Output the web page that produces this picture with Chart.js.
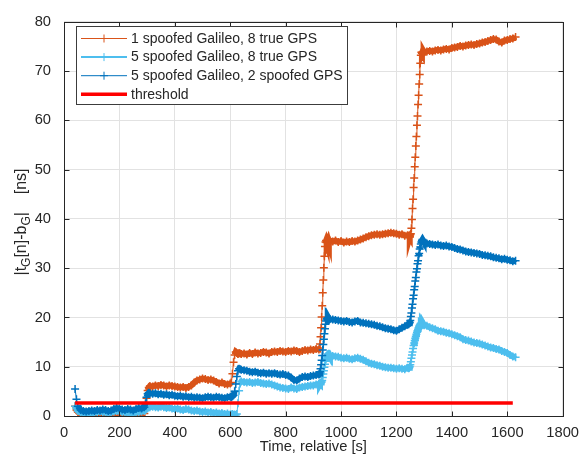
<!DOCTYPE html>
<html>
<head>
<meta charset="utf-8">
<script src="https://cdn.jsdelivr.net/npm/chart.js@4.4.0/dist/chart.umd.min.js"></script>
<style>
  html, body { margin: 0; padding: 0; background: #fff; }
  canvas { display: block; }
</style>
</head>
<body>
<canvas id="offsetChart" width="587" height="463"></canvas>
<script>
// sample times [s], denser around the spoofing steps
const times = [
  40, 45, 50, 60, 70, 80, 90, 100, 110, 120, 130, 140, 150, 160, 170, 180, 190, 200, 210, 220, 230, 240, 250, 260, 270, 280, 290,
  294, 298, 302, 306, 310,
  320, 330, 340, 350, 360, 370, 380, 390, 400, 410, 420, 430, 440, 450, 460, 470, 480, 490, 500, 510, 520, 530, 540, 550, 560, 570, 580, 590, 600,
  604, 608, 612, 616, 620, 624, 628, 632, 636, 640,
  650, 660, 670, 680, 690, 700, 710, 720, 730, 740, 750, 760, 770, 780, 790, 800, 810, 820, 830, 840, 850, 860, 870, 880, 890, 900, 910,
  920, 922, 924, 926, 928, 930, 932, 934, 936, 938, 940, 942, 944, 946, 948, 950, 952, 954, 956, 958, 960,
  970, 980, 990, 1000, 1010, 1020, 1030, 1040, 1050, 1060, 1070, 1080, 1090, 1100, 1110, 1120, 1130, 1140, 1150, 1160, 1170, 1180, 1190, 1200, 1210, 1220, 1230, 1240,
  1244, 1246, 1248, 1250, 1252, 1254, 1256, 1258, 1260, 1262, 1264, 1266, 1268, 1270, 1272, 1274, 1276, 1278, 1280, 1282, 1284, 1286, 1288, 1290, 1292, 1294, 1296, 1298, 1300,
  1310, 1320, 1330, 1340, 1350, 1360, 1370, 1380, 1390, 1400, 1410, 1420, 1430, 1440, 1450, 1460, 1470, 1480, 1490, 1500, 1510, 1520, 1530, 1540, 1550, 1560, 1570, 1580, 1590, 1600, 1610, 1620, 1630
];

// |t_G[n] - b_G| in ns
const gal1Gps8True = [
  2.0, 1.2, 0.8, 0.5, 0.3, 0.3, 0.4, 0.2, 0.3, 0.4, 0.5, 0.3, 0.2, 0.1, 0.2, 0.3, 0.2, 0.0, 0.1, 0.2, 0.1, 0.0, 0.1, 0.2, 0.3, 0.2, 0.5,
  1.6, 3.6, 5.2, 5.8, 6.1,
  6.0, 6.2, 6.1, 6.3, 6.2, 6.0, 6.2, 6.1, 6.0, 5.9, 5.8, 5.9, 5.7, 5.9, 6.2, 6.8, 7.2, 7.4, 7.6, 7.5, 7.3, 7.4, 7.2, 6.9, 6.6, 6.8, 6.5, 6.4, 6.6,
  6.8, 8.6, 10.9, 12.4, 13.0, 12.8, 12.6, 12.8, 12.7, 12.6,
  12.7, 12.5, 12.8, 12.6, 12.9, 12.7, 12.8, 13.0, 12.9, 12.7, 13.0, 13.1, 13.0, 13.2, 13.1, 13.0, 13.2, 13.1, 13.3, 13.2, 13.0, 13.2, 13.4, 13.3, 13.5, 13.4, 13.6,
  13.5, 13.8, 14.6, 16.1, 17.9, 20.1, 22.4, 25.0, 27.6, 30.1, 32.4, 34.4, 35.3, 35.6, 35.2, 35.5, 35.4, 35.7, 35.3, 35.5, 35.6,
  35.4, 35.6, 35.3, 35.5, 35.2, 35.4, 35.3, 35.5, 35.4, 35.6, 35.8, 36.0, 36.3, 36.5, 36.7, 36.8, 36.9, 36.8, 36.9, 37.0, 37.1, 37.2, 37.1, 37.0, 36.8, 36.9, 36.6, 36.7,
  36.5, 36.6, 36.4, 36.8, 37.0, 38.1, 39.9, 42.1, 44.0, 46.4, 48.3, 50.6, 52.5, 54.8, 56.7, 59.0, 60.9, 63.2, 65.1, 67.4, 69.3, 71.6, 73.2, 73.8, 73.6, 73.9, 73.7, 74.0, 73.8,
  74.0, 74.1, 74.0, 74.2, 74.3, 74.2, 74.4, 74.5, 74.4, 74.7, 74.8, 74.9, 75.1, 75.0, 75.2, 75.3, 75.4, 75.3, 75.5, 75.6, 75.8, 75.9, 76.1, 76.3, 76.5, 76.4, 76.0, 75.8, 76.2, 76.3, 76.5, 76.6, 76.9
];

const gal5Gps8True = [
  2.0, 1.5, 1.0, 0.7, 0.6, 0.5, 0.6, 0.5, 0.7, 0.8, 0.9, 0.8, 0.7, 0.6, 0.7, 0.9, 1.0, 0.9, 0.8, 0.7, 0.6, 0.5, 0.6, 0.7, 0.8, 0.9, 1.0,
  1.2, 1.5, 1.7, 1.8, 1.8,
  1.9, 1.8, 1.7, 1.9, 1.8, 1.6, 1.7, 1.5, 1.4, 1.5, 1.3, 1.2, 1.4, 1.3, 1.1, 1.0, 1.1, 0.9, 0.8, 0.9, 0.7, 0.8, 0.6, 0.7, 0.5, 0.6, 0.4, 0.5, 0.3,
  0.3, 0.4, 0.2, 0.3, 0.2, 0.4, 2.6, 5.1, 6.6, 7.0,
  6.9, 6.8, 6.9, 6.7, 6.8, 6.9, 6.7, 6.6, 6.5, 6.6, 6.4, 6.2, 6.0, 5.8, 5.7, 5.6, 5.5, 5.8, 5.6, 5.5, 5.8, 5.9, 6.0, 6.1, 6.2, 6.2, 6.4,
  6.5, 6.6, 6.5, 6.7, 6.8, 6.9, 7.2, 7.8, 8.5, 9.2, 9.9, 10.5, 11.1, 11.6, 12.0, 12.3, 12.5, 12.6, 12.4, 12.5, 12.3,
  12.2, 12.1, 12.0, 11.8, 11.7, 11.8, 11.6, 11.5, 11.7, 11.8, 11.6, 11.4, 11.1, 10.8, 10.6, 10.5, 10.3, 10.2, 10.0, 9.9, 9.8, 9.8, 9.7, 9.6, 9.7, 9.6, 9.5, 9.8,
  9.7, 9.8, 10.0, 10.4, 11.0, 11.7, 12.4, 13.0, 13.7, 14.3, 14.8, 15.3, 15.8, 16.2, 16.6, 17.0, 17.3, 17.6, 17.9, 18.2, 18.4, 18.6, 18.8, 18.7, 18.8, 18.6, 18.5, 18.6, 18.4,
  18.3, 18.0, 17.8, 17.6, 17.3, 17.2, 17.1, 16.9, 16.8, 16.6, 16.4, 16.2, 16.0, 15.6, 15.4, 15.3, 15.1, 14.9, 14.8, 14.7, 14.5, 14.3, 14.1, 13.9, 13.8, 13.6, 13.5, 13.2, 13.0, 12.8, 12.4, 12.1, 11.9
];

const gal5Gps2Spoofed = [
  5.5, 3.4, 2.0, 1.2, 1.0, 0.9, 1.0, 1.1, 1.0, 1.2, 1.1, 1.3, 1.2, 1.0, 1.1, 1.4, 1.6, 1.5, 1.3, 1.2, 1.4, 1.3, 1.1, 1.4, 1.6, 1.5, 1.8,
  2.6, 3.8, 4.5, 4.7, 4.6,
  4.5, 4.6, 4.4, 4.5, 4.3, 4.4, 4.2, 4.3, 4.1, 4.0, 4.1, 3.9, 4.0, 3.8, 3.9, 3.7, 3.8, 3.7, 3.6, 3.8, 3.9, 3.8, 3.7, 3.9, 3.8, 3.7, 3.6, 3.8, 3.9,
  3.8, 4.0, 4.2, 5.0, 6.5, 8.0, 9.2, 9.6, 9.5, 9.4,
  9.3, 9.2, 9.0, 8.9, 9.0, 8.8, 8.7, 8.8, 8.6, 8.7, 8.6, 8.7, 8.5, 8.4, 8.5, 8.3, 8.2, 7.8, 7.3, 7.2, 7.6, 7.9, 8.0, 7.9, 8.1, 8.2, 8.3,
  8.4, 8.6, 9.0, 9.6, 10.4, 11.3, 12.3, 13.4, 14.5, 15.6, 16.7, 17.7, 18.6, 19.3, 19.7, 19.8, 19.9, 19.7, 19.8, 19.6, 19.7,
  19.6, 19.5, 19.4, 19.3, 19.2, 19.3, 19.1, 19.0, 19.2, 19.3, 19.0, 18.9, 18.8, 18.7, 18.6, 18.5, 18.3, 18.2, 18.0, 17.8, 17.7, 17.6, 17.4, 17.3, 17.6, 17.9, 18.2, 18.5,
  18.6, 18.8, 19.0, 19.4, 20.2, 20.9, 21.9, 22.7, 23.8, 24.5, 25.6, 26.3, 27.4, 28.1, 29.2, 29.9, 30.9, 31.5, 32.5, 33.0, 33.9, 34.3, 34.9, 35.3, 35.6, 35.8, 35.6, 35.4, 35.3,
  35.0, 34.9, 34.8, 34.7, 34.8, 34.6, 34.5, 34.6, 34.4, 34.3, 34.1, 33.9, 33.8, 33.6, 33.4, 33.3, 33.2, 33.1, 33.0, 32.9, 32.7, 32.6, 32.5, 32.4, 32.2, 32.1, 32.0, 31.8, 31.9, 31.7, 31.6, 31.4, 31.5
];

const thresholdTimes = [40, 1620];
const thresholdLevel = [2.65, 2.65];

const xTickValues = [0, 200, 400, 600, 800, 1000, 1200, 1400, 1600, 1800];
const yTickValues = [0, 10, 20, 30, 40, 50, 60, 70, 80];

const seriesLabels = [
  '1 spoofed Galileo, 8 true GPS',
  '5 spoofed Galileo, 8 true GPS',
  '5 spoofed Galileo, 2 spoofed GPS',
  'threshold'
];
const seriesColors = ['#D95319', '#4DBEEE', '#0072BD', '#FF0000'];

const FONT = "'Liberation Sans', Arial, sans-serif";
const TEXT_COLOR = '#262626';
const GRID_COLOR = '#e2e2e2';
const TICK_LEN = 5;

function toPoints(xs, ys) {
  return xs.map((x, i) => ({ x: x, y: ys[i] }));
}

// the noisy plateaus read as a thick band, the steps as a thin line of markers
function segmentWidth(seg) {
  const dx = seg.p1.parsed.x - seg.p0.parsed.x;
  const dy = Math.abs(seg.p1.parsed.y - seg.p0.parsed.y);
  return dy / dx > 0.25 ? 1 : 6;
}

function markerSeries(idx, values, order) {
  const color = seriesColors[idx];
  return {
    label: seriesLabels[idx],
    data: toPoints(times, values),
    borderColor: color,
    backgroundColor: color,
    borderWidth: 1,
    segment: { borderWidth: segmentWidth },
    pointStyle: 'cross',
    pointRadius: 4,
    pointHoverRadius: 4,
    pointBorderWidth: 1.5,
    pointBorderColor: color,
    order: order,
    clip: 0
  };
}

// y label with subscripts: |t_G[n]-b_G|   [ns]
function drawYTitle(ctx, cx, cy) {
  const parts = [
    { text: '|t', size: 16, shift: 0 },
    { text: 'G', size: 12, shift: 4 },
    { text: '[n]-b', size: 16, shift: 0 },
    { text: 'G', size: 12, shift: 4 },
    { text: '|    [ns]', size: 16, shift: 0 }
  ];
  ctx.save();
  ctx.translate(cx, cy);
  ctx.rotate(-Math.PI / 2);
  ctx.fillStyle = TEXT_COLOR;
  ctx.textBaseline = 'alphabetic';
  let total = 0;
  parts.forEach(p => {
    ctx.font = p.size + 'px ' + FONT;
    p.w = ctx.measureText(p.text).width;
    total += p.w;
  });
  let x = -total / 2;
  parts.forEach(p => {
    ctx.font = p.size + 'px ' + FONT;
    ctx.fillText(p.text, x, 5 + p.shift);
    x += p.w;
  });
  ctx.restore();
}

function drawLegend(ctx) {
  const left = 76, top = 26, width = 271, height = 78;
  ctx.save();
  ctx.fillStyle = '#ffffff';
  ctx.fillRect(left, top, width, height);
  ctx.strokeStyle = '#3c3c3c';
  ctx.lineWidth = 1;
  ctx.strokeRect(left + 0.5, top + 0.5, width, height);

  ctx.font = '14px ' + FONT;
  ctx.textBaseline = 'middle';
  seriesLabels.forEach((label, i) => {
    const y = 38.5 + i * 18.6;
    const color = seriesColors[i];
    ctx.strokeStyle = color;
    ctx.lineWidth = i === 3 ? 3.5 : (i === 1 ? 2 : 1);
    ctx.beginPath();
    ctx.moveTo(81, y);
    ctx.lineTo(127, y);
    ctx.stroke();
    if (i < 3) {
      ctx.lineWidth = 1;
      ctx.beginPath();
      ctx.moveTo(100, y); ctx.lineTo(108, y);
      ctx.moveTo(104, y - 4); ctx.lineTo(104, y + 4);
      ctx.stroke();
    }
    ctx.fillStyle = TEXT_COLOR;
    ctx.fillText(label, 131, y + 0.5);
  });
  ctx.restore();
}

// box around the axes with inward tick marks, plus legend and y label
const axesFramePlugin = {
  id: 'axesFrame',
  afterDraw(chart) {
    const ctx = chart.ctx;
    const area = chart.chartArea;
    const xs = chart.scales.x;
    const ys = chart.scales.y;
    const l = Math.round(area.left) + 0.5;
    const r = Math.round(area.right) + 0.5;
    const t = Math.round(area.top) + 0.5;
    const b = Math.round(area.bottom) + 0.5;

    ctx.save();
    ctx.strokeStyle = TEXT_COLOR;
    ctx.lineWidth = 1;
    ctx.beginPath();
    xTickValues.forEach(v => {
      const px = Math.round(xs.getPixelForValue(v)) + 0.5;
      ctx.moveTo(px, b); ctx.lineTo(px, b - TICK_LEN);
      ctx.moveTo(px, t); ctx.lineTo(px, t + TICK_LEN);
    });
    yTickValues.forEach(v => {
      const py = Math.round(ys.getPixelForValue(v)) + 0.5;
      ctx.moveTo(l, py); ctx.lineTo(l + TICK_LEN, py);
      ctx.moveTo(r, py); ctx.lineTo(r - TICK_LEN, py);
    });
    ctx.stroke();
    ctx.strokeRect(l, t, r - l, b - t);
    ctx.restore();

    drawLegend(ctx);
    drawYTitle(ctx, 21, 222);
  }
};

const ctx = document.getElementById('offsetChart').getContext('2d');

new Chart(ctx, {
  type: 'line',
  data: {
    datasets: [
      markerSeries(0, gal1Gps8True, 4),
      markerSeries(1, gal5Gps8True, 3),
      markerSeries(2, gal5Gps2Spoofed, 2),
      {
        label: seriesLabels[3],
        data: toPoints(thresholdTimes, thresholdLevel),
        borderColor: seriesColors[3],
        backgroundColor: seriesColors[3],
        borderWidth: 3.5,
        pointRadius: 0,
        order: 1,
        clip: 0
      }
    ]
  },
  options: {
    responsive: false,
    animation: false,
    devicePixelRatio: 1,
    events: [],
    layout: { padding: { left: 0, right: 19, top: 16, bottom: 0 } },
    plugins: {
      legend: { display: false },
      tooltip: { enabled: false }
    },
    scales: {
      x: {
        type: 'linear',
        min: 0,
        max: 1800,
        afterBuildTicks: scale => { scale.ticks = xTickValues.map(v => ({ value: v })); },
        afterFit: scale => { scale.height = 47; },
        grid: { color: GRID_COLOR, drawTicks: false },
        border: { display: false },
        ticks: {
          padding: 8,
          autoSkip: false,
          maxRotation: 0,
          color: TEXT_COLOR,
          font: { family: FONT, size: 14.7 },
          callback: value => String(value)
        },
        title: {
          display: true,
          text: 'Time, relative [s]',
          color: TEXT_COLOR,
          font: { family: FONT, size: 14.7 },
          padding: { top: 0, bottom: 7 }
        }
      },
      y: {
        type: 'linear',
        min: 0,
        max: 80,
        afterBuildTicks: scale => { scale.ticks = yTickValues.map(v => ({ value: v })); },
        afterFit: scale => { scale.width = 64; },
        grid: { color: GRID_COLOR, drawTicks: false },
        border: { display: false },
        ticks: {
          padding: 13,
          color: TEXT_COLOR,
          font: { family: FONT, size: 14.7 },
          callback: value => String(value)
        }
      }
    }
  },
  plugins: [axesFramePlugin]
});
</script>
</body>
</html>
